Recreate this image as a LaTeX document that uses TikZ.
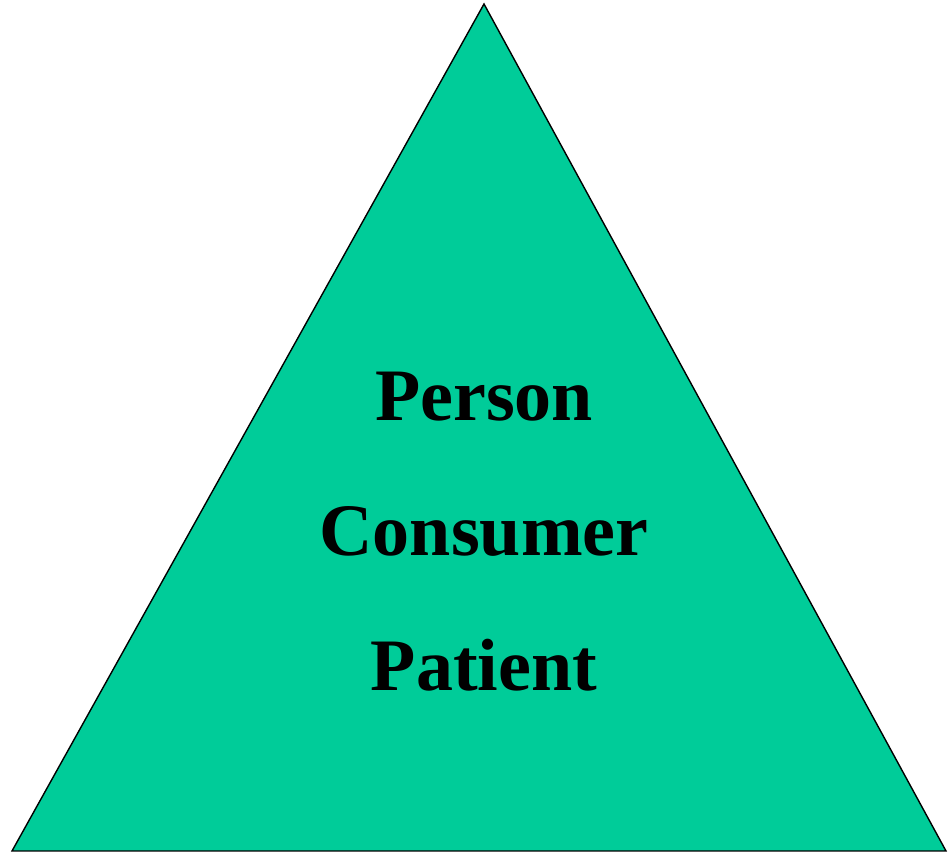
\documentclass[tikz,border=0pt]{standalone}
\usepackage{fontspec}
\setmainfont{Liberation Serif}
\begin{document}
\begin{tikzpicture}[x=1pt,y=1pt,
  tri/.style={fill={rgb,255:red,0;green,204;blue,153}, draw=black, line width=1.4pt, line join=miter},
  word/.style={font=\fontsize{74}{80}\selectfont\bfseries, anchor=base, inner sep=0pt}]
  \useasboundingbox (0,0) rectangle (948,853);
  % triangle corners
  \coordinate (apex) at (484,849);
  \coordinate (bl) at (12,2);
  \coordinate (br) at (946,2);
  \draw[tri] (apex) -- (br) -- (bl) -- cycle;
  \node[word] (person) at (484,432) {Person};
  \node[word] (consumer) at (484,297) {Consumer};
  \node[word] (patient) at (484,162) {Patient};
\end{tikzpicture}
\end{document}
